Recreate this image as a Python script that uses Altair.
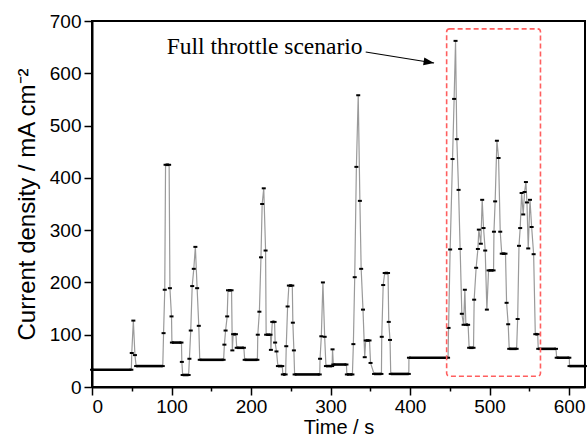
import altair as alt
import pandas as pd

# ---- data (time in s, current density in mA cm^-2) ----
times = [0, 49.5, 50, 52, 54, 55.5, 89, 90, 91.5, 92.5, 97, 98, 100, 100.5, 112.5, 113,
         114, 121.5, 122.5, 124.2, 126, 128, 130, 132.2, 134.3, 135.5, 165.5, 166.5, 168,
         170, 171, 175.5, 176.5, 177.5, 181, 182, 191, 192, 208, 208.5, 210.5, 212.5, 214,
         216, 218.3, 219, 224.5, 225, 226.7, 229.6, 230.3, 232, 233.8, 239.3, 240, 243.5,
         244.3, 246, 247.6, 251.9, 252.6, 253.9, 254.8, 286.4, 286.8, 288.4, 290.4, 292.6,
         294.2, 302, 302.5, 303.5, 320, 320.5, 327.5, 328.7, 330.4, 332.5, 334.8, 336.9,
         338.5, 340.8, 343, 344.2, 349, 350.3, 354.7, 364, 364.4, 366.2, 368.1, 372.3,
         373.2, 374.8, 375.7, 398.4, 398.6, 447.8, 448.4, 450.4, 453.4, 455.4, 457.2, 458.8,
         461, 463, 465.1, 467.3, 468.9, 470.2, 473, 474.3, 479.8, 480.6, 483.1, 485.3, 486.5,
         489, 490.7, 492.4, 494.5, 496.6, 498.7, 505, 505.5, 507, 509.2, 511.3, 513.4, 515.3,
         520, 521.4, 523.4, 524.7, 534, 535.3, 537, 538.5, 540.3, 542.3, 544, 545.7, 547,
         548.6, 550.8, 552.9, 555.4, 557.5, 560.5, 561.2, 583.5, 584.4, 600.3, 600.5, 620]
currents = [33, 33, 65, 127, 61, 40, 40, 103, 186, 425, 425, 189, 135, 85, 85, 48,
            23, 23, 54, 108, 193, 226, 268, 189, 117, 52, 52, 81, 108,
            135, 185, 185, 70, 101, 101, 75, 75, 52, 52, 100, 144, 248, 350,
            380, 261, 100, 100, 71, 124.5, 124.5, 85, 68, 40, 40, 24, 24,
            78, 154, 194, 194, 123, 70, 24, 24, 54, 97, 200, 96,
            40, 40, 72, 43, 43, 24, 24, 82, 210, 421, 558, 356,
            226, 148, 57, 89, 89, 46, 25, 25, 96, 195, 218, 218,
            124.5, 90, 25, 25, 56, 56, 113, 263, 436, 551, 662, 474,
            377, 264, 140, 119, 186, 119, 119, 75, 75, 167, 228, 264, 301,
            274, 358, 304, 261, 148, 223, 223, 297, 355, 471, 438, 297, 255,
            255, 161, 120, 73, 73, 130, 270, 304, 371, 330, 373, 392, 353,
            265, 358, 306, 254, 101, 101, 73, 73, 56, 56, 40, 40]

# annotation (data coordinates)
box_t = [446, 564]
box_v = [20.5, 685]
label_text = "Full throttle scenario"
label_t, label_v = 94, 650
arrow_t = [344.2, 430.2]
arrow_v = [640.7, 619.7]

df = pd.DataFrame({"t": times, "v": currents})
df["i"] = range(len(df))

# hold segments: consecutive samples with equal value (dense markers -> thick black)
hs, he, hv = [], [], []
for k in range(len(times) - 1):
    if currents[k] == currents[k + 1]:
        hs.append(times[k]); he.append(times[k + 1]); hv.append(currents[k])
holds = pd.DataFrame({"t": hs, "t2": he, "v": hv})

FONT = "Liberation Sans"
xs = alt.Scale(domain=[0, 620], nice=False, zero=False)
ys = alt.Scale(domain=[0, 700], nice=False, zero=False)

major = {"condition": {"test": "datum.value % 100 === 0", "value": 8}, "value": 4}

x_axis = alt.Axis(values=list(range(0, 601, 50)),
                  labelExpr="datum.value % 100 === 0 ? datum.label : ''",
                  tickSize=major, tickWidth=1.5, tickColor="black",
                  domainColor="black", domainWidth=2, grid=False,
                  labelFont=FONT, labelFontSize=19, labelColor="black", labelPadding=2,
                  title="Time / s", titleFont=FONT, titleFontSize=20,
                  titleFontWeight="normal", titleColor="black", titlePadding=1)
y_axis = alt.Axis(values=list(range(0, 701, 50)),
                  labelExpr="datum.value % 100 === 0 ? datum.label : ''",
                  tickSize=major, tickWidth=1.5, tickColor="black",
                  domainColor="black", domainWidth=2, grid=False,
                  labelFont=FONT, labelFontSize=19, labelColor="black", labelPadding=3,
                  title="Current density / mA cm⁻²", titleFont=FONT, titleFontSize=24,
                  titleFontWeight="normal", titleColor="black", titlePadding=10)

line = alt.Chart(df).mark_line(color="#9a9a9a", strokeWidth=1.2).encode(
    x=alt.X("t:Q", scale=xs, axis=x_axis),
    y=alt.Y("v:Q", scale=ys, axis=y_axis),
    order="i:Q",
)

hold_marks = alt.Chart(holds).mark_rule(color="black", strokeWidth=2.6).encode(
    x="t:Q", x2="t2:Q", y="v:Q")

pts = alt.Chart(df).mark_point(
    shape="M-1,-0.5H1V0.5H-1Z", filled=True, color="black", opacity=1, size=16
).encode(x="t:Q", y="v:Q")

box = alt.Chart(pd.DataFrame({"t": [box_t[0]], "t2": [box_t[1]],
                              "v": [box_v[0]], "v2": [box_v[1]]})).mark_rect(
    fill=None, filled=False, stroke="#ff5f5f", strokeWidth=1.6, strokeDash=[5, 3],
    cornerRadius=3).encode(x="t:Q", x2="t2:Q", y="v:Q", y2="v2:Q")

arrow_line = alt.Chart(pd.DataFrame({"t": [arrow_t[0]], "t2": [arrow_t[1]],
                                     "v": [arrow_v[0]], "v2": [arrow_v[1]]})).mark_rule(
    color="black", strokeWidth=1.1).encode(x="t:Q", x2="t2:Q", y="v:Q", y2="v2:Q")

arrow_head = alt.Chart(pd.DataFrame({"t": [arrow_t[1]], "v": [arrow_v[1]]})).mark_point(
    shape="M0,0L-2,-0.75L-2,0.75Z", filled=True, color="black", opacity=1,
    size=110, angle=9).encode(x="t:Q", y="v:Q")

label = alt.Chart(pd.DataFrame({"t": [label_t], "v": [label_v], "s": [label_text]})).mark_text(
    font="Liberation Serif", fontSize=23.5, align="left", baseline="middle", color="black"
).encode(x="t:Q", y="v:Q", text="s:N")

chart = alt.layer(line, hold_marks, pts, box, arrow_line, arrow_head, label).properties(
    width=493, height=366,
    autosize=alt.AutoSizeParams(type="none"),
    padding={"left": 92, "top": 21, "right": 3, "bottom": 52},
    background="white",
).configure_view(stroke="black", strokeWidth=2)

chart.save("out.html", embed_options={"renderer": "svg", "actions": False})
